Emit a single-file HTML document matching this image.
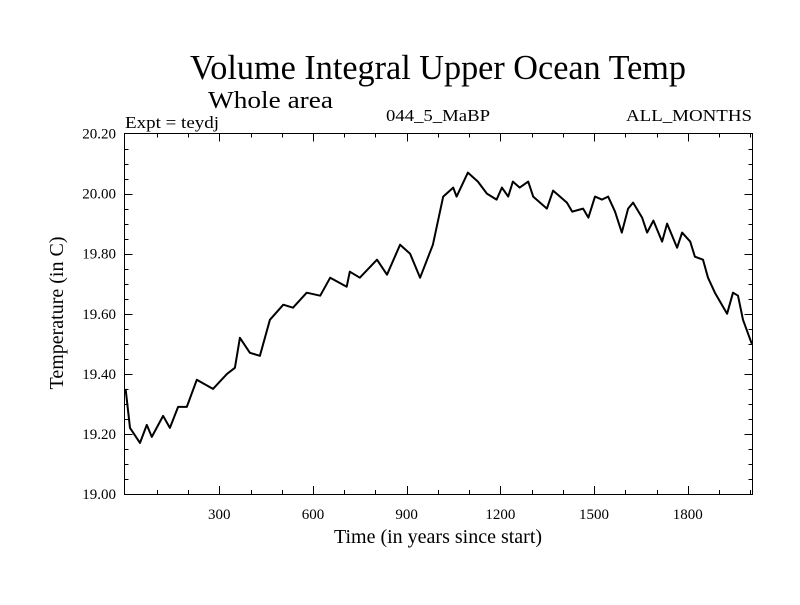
<!DOCTYPE html>
<html><head><meta charset="utf-8"><style>
body{margin:0;background:#fff}
svg text{font-family:"Liberation Serif",serif;fill:#000}
</style></head><body>
<svg id="chart" width="800" height="600" xmlns="http://www.w3.org/2000/svg">
<text x="190" y="79" font-size="35" textLength="496" lengthAdjust="spacingAndGlyphs">Volume Integral Upper Ocean Temp</text>
<text x="208" y="108" font-size="24" textLength="125" lengthAdjust="spacingAndGlyphs">Whole area</text>
<text x="125" y="128" font-size="17" textLength="94" lengthAdjust="spacingAndGlyphs">Expt = teydj</text>
<text x="386" y="121" font-size="17" textLength="104" lengthAdjust="spacingAndGlyphs">044_5_MaBP</text>
<text x="626" y="121" font-size="17" textLength="126" lengthAdjust="spacingAndGlyphs">ALL_MONTHS</text>
<text transform="translate(63,313) rotate(-90)" font-size="20" text-anchor="middle">Temperature (in C)</text>
<text x="438" y="543" font-size="20" text-anchor="middle">Time (in years since start)</text>
<rect x="124.5" y="133.5" width="628" height="361" fill="none" stroke="#000" stroke-width="1"/>
<g id="ticks"></g>
<path id="line" fill="none" stroke="#000" stroke-width="2" stroke-linejoin="round"/>
</svg>
<script>
const years=[0,14,46,68,84,120,142,168,196,228,280,325,350,366,398,430,462,505,536,580,623,655,708,718,750,805,837,879,911,943,984,1017,1049,1060,1096,1128,1157,1188,1205,1225,1240,1262,1289,1305,1349,1369,1413,1430,1465,1482,1503,1525,1545,1567,1589,1609,1625,1654,1670,1690,1718,1734,1766,1782,1808,1823,1849,1865,1887,1926,1945,1961,1977,2005];
const temps=[19.35,19.22,19.17,19.23,19.19,19.26,19.22,19.29,19.29,19.38,19.35,19.40,19.42,19.52,19.47,19.46,19.58,19.63,19.62,19.67,19.66,19.72,19.69,19.74,19.72,19.78,19.73,19.83,19.80,19.72,19.83,19.99,20.02,19.99,20.07,20.04,20.00,19.98,20.02,19.99,20.04,20.02,20.04,19.99,19.95,20.01,19.97,19.94,19.95,19.92,19.99,19.98,19.99,19.94,19.87,19.95,19.97,19.92,19.87,19.91,19.84,19.90,19.82,19.87,19.84,19.79,19.78,19.72,19.67,19.60,19.67,19.66,19.58,19.50];
const xTicks=[300,600,900,1200,1500,1800];
const yTicks=[19.00,19.20,19.40,19.60,19.80,20.00,20.20];
const X0=125.6,XK=0.3123,Y0=494,YMIN=19.0,YMAX=20.2,YT=133.5;
const xs=v=>X0+v*XK;
const ys=v=>Y0-(v-YMIN)/(YMAX-YMIN)*(Y0-YT);
const ns="http://www.w3.org/2000/svg";
const g=document.getElementById('ticks');
function ln(x1,y1,x2,y2,name){const l=document.createElementNS(ns,'line');
l.setAttribute('x1',x1);l.setAttribute('y1',y1);l.setAttribute('x2',x2);l.setAttribute('y2',y2);
l.setAttribute('stroke','#000');l.setAttribute('stroke-width','1');


g.appendChild(l);}
function tx(x,y,s,anchor,name){const t=document.createElementNS(ns,'text');
t.setAttribute('x',x);t.setAttribute('y',y);t.setAttribute('font-size','15');t.setAttribute('text-anchor',anchor);t.textContent=s;


g.appendChild(t);}
for(let v=100;v<2006;v+=100){const x=Math.round(xs(v))+0.5;const major=v%300===0;
ln(x,494,x,494-(major?8:4),major?'x-major-tick':'x-minor-tick');ln(x,133.5,x,133.5+(major?8:4),'x-top-tick');}
xTicks.forEach(v=>tx(xs(v),519,String(v),'middle','x-tick-label'));
for(let i=1;i<24;i++){const v=19+i*0.05;const y=Math.round(ys(v))+0.5;const major=i%4===0;
ln(124.5,y,124.5+(major?8:4),y,major?'y-major-tick':'y-minor-tick');ln(752.5,y,752.5-(major?8:4),y,'y-right-tick');}
yTicks.forEach(v=>tx(116,ys(v)+5,v.toFixed(2),'end','y-tick-label'));
let d='';years.forEach((yr,i)=>{d+=(i?'L':'M')+xs(yr).toFixed(1)+','+ys(temps[i]).toFixed(1);});
document.getElementById('line').setAttribute('d',d);
</script>
</body></html>
